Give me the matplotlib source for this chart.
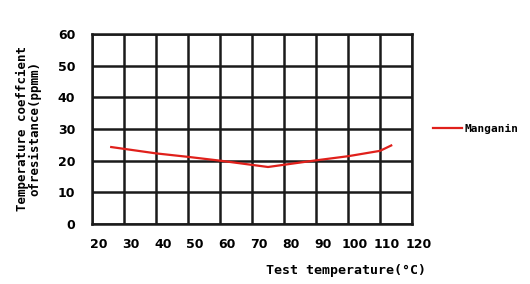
import matplotlib
matplotlib.use("Agg")
import matplotlib.pyplot as plt
import matplotlib.transforms as mtransforms

# Manganin temperature coefficient curve
temp_c = [26, 40, 50, 60, 75, 90, 100, 110, 113.5]
tcr_ppm = [24.3, 22.3, 21.2, 20.0, 18.0, 20.1, 21.4, 23.1, 24.8]

x_ticks = [20, 30, 40, 50, 60, 70, 80, 90, 100, 110, 120]
y_ticks = [0, 10, 20, 30, 40, 50, 60]

fig = plt.figure(figsize=(5.3, 2.84), dpi=100)
ax = fig.add_axes([0.1736, 0.2113, 0.6038, 0.669])

line, = ax.plot(temp_c, tcr_ppm, color='#e0201b', linewidth=1.6, label='Manganin')

ax.set_xlim(20, 120)
ax.set_ylim(0, 60)
ax.set_xticks(x_ticks)
ax.set_yticks(y_ticks)
ax.tick_params(length=0, labelsize=9)
ax.tick_params(axis='x', pad=10)
ax.tick_params(axis='y', pad=12)
shift = mtransforms.ScaledTranslation(0.07, 0, fig.dpi_scale_trans)
for lab in ax.get_xticklabels():
    lab.set_fontweight('bold')
    lab.set_transform(lab.get_transform() + shift)
for lab in ax.get_yticklabels():
    lab.set_fontweight('bold')

ax.grid(True, color='#1a1a1a', linewidth=1.8)
for s in ax.spines.values():
    s.set_linewidth(1.8)
    s.set_color('#1a1a1a')

ax.set_xlabel('Test temperature(\u00b0C)', fontsize=9.5, fontweight='bold',
              family='DejaVu Sans Mono')
ax.xaxis.set_label_coords(0.795, -0.21)
ax.set_ylabel('Temperature coeffcient\nofresistance(ppmm)', fontsize=9,
              fontweight='bold', linespacing=1.0, family='DejaVu Sans Mono')
ax.yaxis.set_label_coords(-0.157, 0.5)

fig.legend(handles=[line], loc='center left', bbox_to_anchor=(0.798, 0.545),
           frameon=False, handlelength=2.6, handletextpad=0.25,
           prop={'size': 8, 'weight': 'bold', 'family': 'DejaVu Sans Mono'})

fig.savefig('out.png', dpi=100)
